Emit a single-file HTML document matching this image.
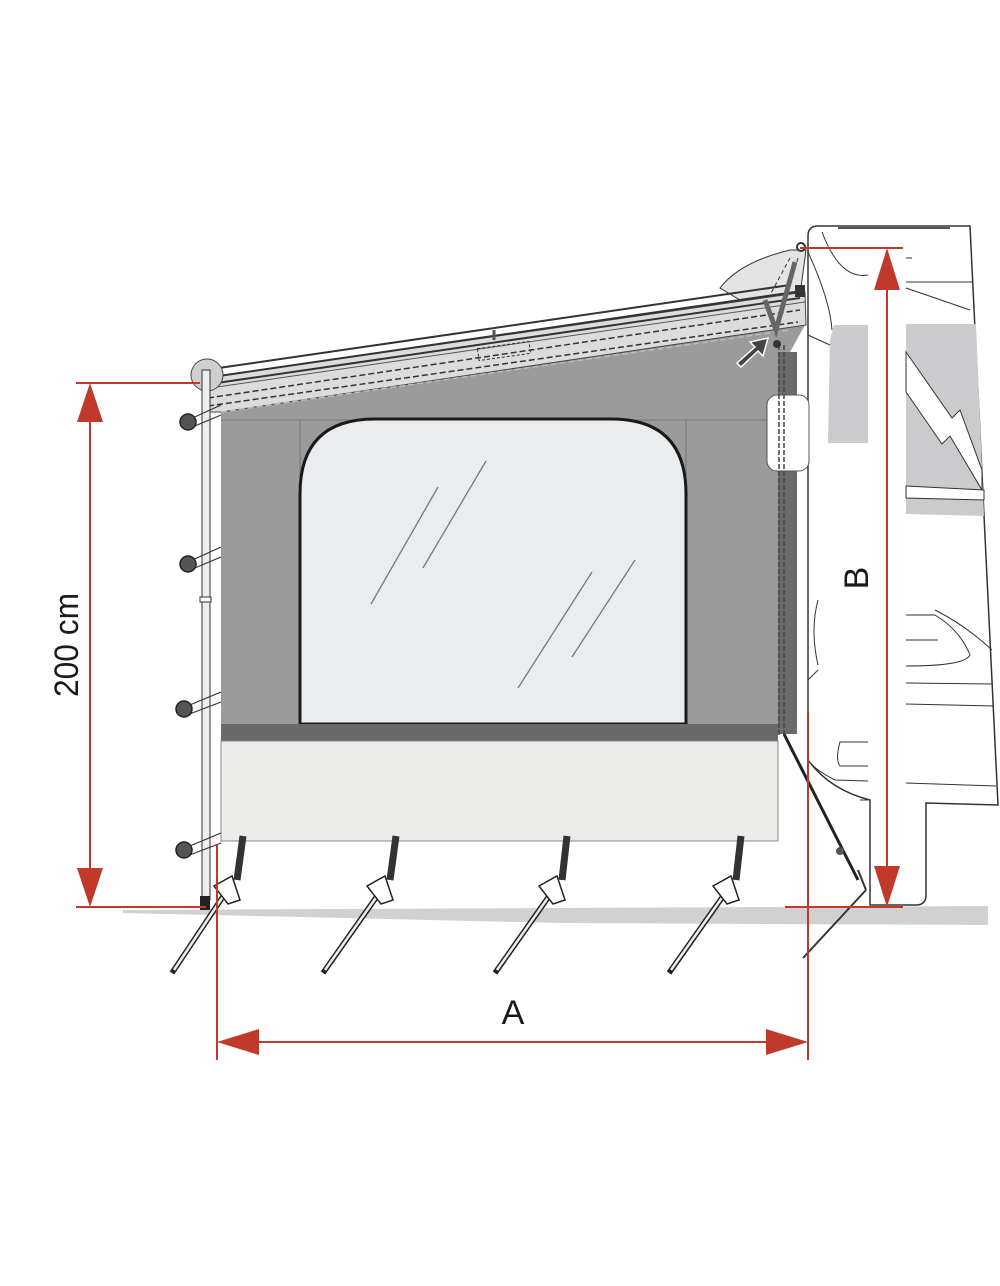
<!DOCTYPE html>
<html><head><meta charset="utf-8"><style>html,body{margin:0;padding:0;background:#fff}svg{display:block}</style></head>
<body>
<svg width="1000" height="1286" viewBox="0 0 1000 1286" xmlns="http://www.w3.org/2000/svg">
<!-- ground -->
<polygon points="123,910 988,906 988,925 560,923 123,913" fill="#d1d1d3"/>
<!-- van -->
<path d="M808,236 Q808,226 818,226 L970,226 L998,805 L926,803 L926,895 Q926,905 916,905 L870,905 L870,800 Q830,790 808,760 Z" fill="#fff" stroke="#333" stroke-width="1.5"/>
<path d="M838,228 L950,228" stroke="#555" stroke-width="2"/>
<path d="M834,325 L868,325 L868,443 L828,443 L830,340 Z" fill="#cbcbcd"/>
<path d="M906,324 L976,324 L984,516 L906,514 Z" fill="#cbcbcd"/>
<path d="M906,352 L952,418 L960,410 L982,470 L982,490 L950,436 L942,444 L906,392 Z" fill="#fff" stroke="#333" stroke-width="1"/>
<path d="M906,486 L984,490 L984,500 L906,498 Z" fill="#fff" stroke="#333" stroke-width="1"/>
<path d="M906,288 L970,310 M906,258 L912,258 M906,282 L972,282" stroke="#333" stroke-width="1" fill="none"/>
<path d="M822,232 Q840,280 868,275 M808,335 L830,345 M808,252 Q830,300 832,330" stroke="#333" stroke-width="1" fill="none"/>
<path d="M906,615 L935,615 Q960,630 970,655 Q965,666 906,666 M906,640 L938,640 M906,683 L993,684 M906,704 L994,706 M906,783 L996,786" stroke="#333" stroke-width="1" fill="none"/>
<path d="M935,610 Q965,625 992,650" stroke="#333" stroke-width="1" fill="none"/>
<path d="M868,742 L840,742 Q835,760 840,766 L868,766 M868,781 L835,780 Q815,770 808,760 M868,800 L860,800" stroke="#333" stroke-width="1" fill="none"/>
<path d="M818,600 Q810,630 818,665 M808,680 L818,670" stroke="#333" stroke-width="1" fill="none"/>
<!-- roof awning case -->
<path d="M720,288 Q740,262 790,250 L806,250 L800,295 L740,300 Z" fill="#e4e4e4" stroke="#333" stroke-width="1"/>
<path d="M790,258 L770,295 M798,258 L785,300" stroke="#333" stroke-width="1" stroke-dasharray="4,3"/>
<!-- tent panel -->
<polygon points="221,410 805,325 790,352 778,352 778,724 221,724" fill="#9a9b9a"/>
<rect x="778" y="352" width="19" height="382" fill="#6a6a6a"/>
<line x1="300" y1="420" x2="300" y2="724" stroke="#777"/>
<line x1="686" y1="420" x2="686" y2="724" stroke="#777"/>
<line x1="221" y1="420" x2="778" y2="420" stroke="#777"/>
<!-- roof strip -->
<polygon points="205,378 805,292 806,325 221,412 205,412" fill="#dcdcdb" stroke="#444" stroke-width="1"/>
<path d="M205,370 L790,285 M205,378 L795,292 M210,384 L800,298" stroke="#333" stroke-width="2" fill="none"/>
<path d="M210,388 L805,302" stroke="#555" stroke-width="1" fill="none"/>
<path d="M208,398 L800,310 M208,406 L798,322" stroke="#333" stroke-width="1.5" stroke-dasharray="6,3" fill="none"/>
<path d="M221,412 L790,330" stroke="#bbb" stroke-width="1.5" stroke-dasharray="6,3" fill="none"/>
<rect x="478" y="345" width="52" height="12" fill="none" stroke="#333" stroke-dasharray="3,2" transform="rotate(-8 504 351)"/>
<line x1="494" y1="330" x2="494" y2="340" stroke="#555" stroke-width="3"/>
<!-- window -->
<path d="M300,724 L300,494 Q300,419 375,419 L611,419 Q686,419 686,494 L686,724 Z" fill="#e9edf0" stroke="#1a1a1a" stroke-width="3"/>
<path d="M371,604 L438,487 M423,568 L486,461 M518,688 L592,572 M572,657 L635,560" stroke="#777" stroke-width="1.3"/>
<rect x="221" y="724" width="557" height="17" fill="#6a6a6a"/>
<rect x="221" y="741" width="557" height="100" fill="#ebebe7" stroke="#888" stroke-width="1"/>
<!-- right side zip line & attachments -->
<rect x="767" y="395" width="42" height="76" rx="10" fill="#fff" stroke="#555"/>
<path d="M779,345 L779,735 M784,345 L784,735" stroke="#444" stroke-width="1.5" stroke-dasharray="5,2"/>
<path d="M765,300 L776,330 L795,262" stroke="#666" stroke-width="5" fill="none"/>
<circle cx="777" cy="344" r="4" fill="#333"/>
<path d="M737,363 L755,347 L750,342 L768,338 L763,356 L758,351 L741,367 Z" fill="#444" stroke="#fff" stroke-width="1.5"/>
<circle cx="801" cy="247" r="4" fill="#fff" stroke="#333" stroke-width="2"/>
<rect x="795" y="285" width="10" height="12" fill="#333"/>
<path d="M784,734 L858,880" stroke="#222" stroke-width="3"/>
<path d="M858,870 L866,890 M866,890 L803,958" stroke="#333" stroke-width="2"/>
<circle cx="840" cy="851" r="4" fill="#555"/>
<!-- left pole -->
<circle cx="207" cy="375" r="16" fill="#cfcfd0" stroke="#444"/>
<rect x="202" y="370" width="8" height="530" fill="#eee" stroke="#333" stroke-width="1"/>
<rect x="200" y="597" width="11" height="5" fill="#fff" stroke="#333"/>
<rect x="200" y="896" width="10" height="14" fill="#222"/>
<g stroke="#333" stroke-width="1.2" fill="none">
<path d="M188,420 L221,405 M190,428 L221,415 M188,562 L221,547 M190,570 L221,557 M185,707 L221,692 M187,715 L221,702 M185,848 L221,833 M187,856 L221,843"/>
</g>
<g fill="#555" stroke="#222" stroke-width="1.5">
<circle cx="188" cy="422" r="8"/><circle cx="188" cy="564" r="8"/><circle cx="184" cy="709" r="8"/><circle cx="184" cy="850" r="8"/>
</g>
<!-- pegs -->
<g>
<path d="M243,836 L237,880 M396,836 L390,880 M567,836 L562,880 M741,836 L736,880" stroke="#333" stroke-width="7"/>
<g stroke="#222" stroke-width="5.5" fill="none"><path d="M226,892 L172,973"/><path d="M380,892 L323,973"/><path d="M552,892 L495,973"/><path d="M726,892 L669,973"/></g>
<g stroke="#eee" stroke-width="2.5" fill="none"><path d="M226,892 L174,970"/><path d="M380,892 L325,970"/><path d="M552,892 L497,970"/><path d="M726,892 L671,970"/></g>
<g fill="#fff" stroke="#222" stroke-width="1.5">
<path d="M214,886 L232,876 L240,900 L228,904 Z"/><path d="M367,886 L385,876 L393,900 L381,904 Z"/><path d="M539,886 L557,876 L565,900 L553,904 Z"/><path d="M713,886 L731,876 L739,900 L727,904 Z"/>
</g>
</g>
<!-- dimensions -->
<g stroke="#c0392b" stroke-width="2" fill="none">
<path d="M76,383 L200,383 M76,907 L206,907 M90,400 L90,890"/>
<path d="M800,248 L903,248 M785,907 L903,907 M887,265 L887,890"/>
<path d="M217,845 L217,1060 M808,712 L808,1060 M235,1042 L790,1042"/>
</g>
<g fill="#c0392b">
<polygon points="90,383 77,422 103,422"/><polygon points="90,907 77,868 103,868"/>
<polygon points="887,248 874,290 900,290"/><polygon points="887,907 874,866 900,866"/>
<polygon points="217,1042 259,1029 259,1055"/><polygon points="808,1042 766,1029 766,1055"/>
</g>
<g font-family="Liberation Sans, sans-serif" fill="#1a1a1a">
<text x="0" y="0" font-size="34" text-anchor="middle" transform="translate(78,645) rotate(-90)" textLength="104" lengthAdjust="spacingAndGlyphs">200 cm</text>
<text x="0" y="0" font-size="34" text-anchor="middle" transform="translate(868,578) rotate(-90)">B</text>
<text x="513" y="1024" font-size="34" text-anchor="middle">A</text>
</g>
</svg>
</body></html>
